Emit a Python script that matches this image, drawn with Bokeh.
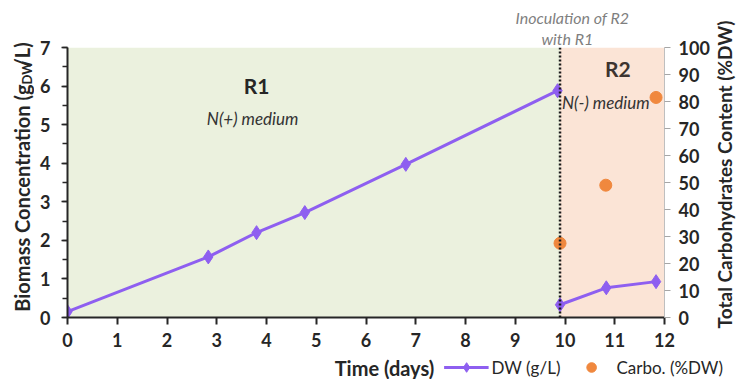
from bokeh.plotting import figure
from bokeh.layouts import row, column
from bokeh.models import (Range1d, LinearAxis, Label, Legend, LegendItem, BoxAnnotation,
                          Span, FixedTicker, SingleIntervalTicker, Title)
from bokeh.embed import file_html
from bokeh.resources import INLINE
from math import pi

# ---- data ----
x_r1 = [0, 2.83, 3.8, 4.77, 6.8, 9.85]
dw_r1 = [0.15, 1.57, 2.2, 2.72, 3.97, 5.88]
x_r2 = [9.9, 10.83, 11.83]
dw_r2 = [0.33, 0.77, 0.93]
x_carb = [9.9, 10.82, 11.83]
carb = [27.5, 49, 81.5]
x_ticks = list(range(0, 13))
inoculation_day = 9.9

PURPLE = "#8E5FF0"
ORANGE = "#F0883E"
DARK = "#262626"
FONT = "Lato"

W, H = 736, 379
LEFT_W, RIGHT_W, BOTTOM_H = 34, 24, 24
MAIN_W = W - LEFT_W - RIGHT_W
MAIN_H = H - BOTTOM_H


def strip(width, height, xr, yr):
    f = figure(width=width, height=height, x_range=Range1d(*xr), y_range=Range1d(*yr),
               x_axis_type=None, y_axis_type=None, output_backend="svg",
               toolbar_location=None, min_border=0, frame_align=False)
    f.outline_line_color = None
    f.grid.visible = False
    return f


def lab(f, x, y, text, size, style="normal", color=DARK, align="center", angle=0):
    f.add_layout(Label(x=x, y=y, text=text, text_font=FONT, text_font_size=size,
                       text_font_style=style, text_color=color, text_align=align,
                       text_baseline="middle", angle=angle))


# ---- main plot ----
p = figure(width=MAIN_W, height=MAIN_H, x_range=Range1d(0, 12), y_range=Range1d(0, 7),
           output_backend="svg", toolbar_location=None, frame_align=False,
           min_border_left=33, min_border_right=46, min_border_top=47, min_border_bottom=38)
p.extra_y_ranges = {"carb": Range1d(0, 100)}
p.outline_line_color = None
p.grid.visible = False


def style_title(t, offset):
    t.align = "left"
    t.offset = offset
    t.standoff = 0
    t.text_font = FONT
    t.text_font_size = "16px"
    t.text_font_style = "italic"
    t.text_color = "#7F7F7F"


p.title.text = "Inoculation of R2"
style_title(p.title, 448)
t2 = Title(text="with R1")
style_title(t2, 474)
p.add_layout(t2, "above")

p.add_layout(BoxAnnotation(left=0, right=inoculation_day, bottom=0, top=7,
                           fill_color="#EBF1DE", fill_alpha=1, line_color=None, level="underlay"))
p.add_layout(BoxAnnotation(left=inoculation_day, right=12, bottom=0, top=7,
                           fill_color="#FBE4D6", fill_alpha=1, line_color=None, level="underlay"))
p.add_layout(Span(location=inoculation_day, dimension="height", line_color="#1a1a1a",
                  line_width=2.5, line_dash="2 2"))

xa = p.xaxis[0]
xa.ticker = FixedTicker(ticks=x_ticks)
ya = p.yaxis[0]
ya.ticker = SingleIntervalTicker(interval=1, num_minor_ticks=2)
ra = LinearAxis(y_range_name="carb", ticker=SingleIntervalTicker(interval=10, num_minor_ticks=0))
p.add_layout(ra, "right")

for ax in (xa, ya, ra):
    ax.major_label_text_font = FONT
    ax.major_label_text_font_size = "18px"
    ax.major_label_text_font_style = "bold"
    ax.major_label_text_color = DARK
    ax.major_tick_in = 0
    ax.minor_tick_in = 0

xa.axis_line_color = DARK
xa.axis_line_width = 2
xa.major_tick_line_color = DARK
xa.major_tick_line_width = 2
xa.major_tick_out = 7
xa.minor_tick_line_color = None
xa.major_label_standoff = 8

ya.axis_line_color = DARK
ya.axis_line_width = 2
ya.major_tick_line_color = DARK
ya.major_tick_line_width = 1.5
ya.minor_tick_line_color = DARK
ya.minor_tick_line_width = 1.5
ya.major_tick_out = 6
ya.minor_tick_out = 5
ya.major_label_standoff = 11

ra.axis_line_color = "#BFBFBF"
ra.axis_line_width = 1
ra.major_tick_line_color = "#A6A6A6"
ra.major_tick_out = 6
ra.minor_tick_line_color = None
ra.major_label_standoff = 8

p.line(x_r1, dw_r1, line_color=PURPLE, line_width=3)
p.scatter(x_r1, dw_r1, marker="diamond", size=14, color=PURPLE)
p.line(x_r2, dw_r2, line_color=PURPLE, line_width=3)
p.scatter(x_r2, dw_r2, marker="diamond", size=14, color=PURPLE)
p.scatter(x_carb, carb, y_range_name="carb", marker="circle", size=12, color=ORANGE)

lab(p, 3.8, 6.02, "R1", "21px", "bold")
lab(p, 3.72, 5.16, "N(+) medium", "17px", "italic", "#333333")
lab(p, 11.06, 6.46, "R2", "21px", "bold", "#3d3430")
lab(p, 10.82, 5.57, "N(-) medium", "17px", "italic", "#333333")

# ---- left strip: y title with subscript (canvas coordinates) ----
left = strip(LEFT_W, MAIN_H, (0, LEFT_W), (MAIN_H, 0))
lab(left, 21, 84, "Biomass Concentration (g", "20px", "bold", align="right", angle=pi / 2)
lab(left, 26, 84, "DW", "13px", "bold", align="left", angle=pi / 2)
lab(left, 21, 67, "/L)", "20px", "bold", align="left", angle=pi / 2)

# ---- right strip: secondary y title ----
right = strip(RIGHT_W, MAIN_H, (0, RIGHT_W), (MAIN_H, 0))
lab(right, 12, 174, "Total Carbohydrates Content (%DW)", "19px", "bold", angle=pi / 2)

# ---- bottom strip (full width): x title and legend ----
bottom = strip(W, BOTTOM_H, (0, W), (H, MAIN_H))
lab(bottom, 384, 367, "Time (days)", "20px", "bold")
# legend proxies use the real series (they fall outside this strip's ranges)
pl = bottom.line(x_r1, dw_r1, line_color=PURPLE, line_width=3)
ps = bottom.scatter(x_r1, dw_r1, marker="diamond", size=14, color=PURPLE)
pc = bottom.scatter(x_carb, carb, marker="circle", size=12, color=ORANGE)
legend = Legend(items=[LegendItem(label="DW (g/L)", renderers=[pl, ps]),
                       LegendItem(label="Carbo. (%DW)", renderers=[pc])],
                orientation="horizontal", location="right",
                glyph_width=45, glyph_height=BOTTOM_H, label_height=BOTTOM_H,
                label_standoff=3, spacing=8, padding=0, margin=13,
                border_line_color=None, background_fill_alpha=0,
                label_text_font=FONT, label_text_font_size="17px", label_text_color=DARK)
bottom.add_layout(legend)

layout = column(row(left, p, right, spacing=0), bottom, spacing=0)
open("out.html", "w").write(file_html(layout, INLINE))
